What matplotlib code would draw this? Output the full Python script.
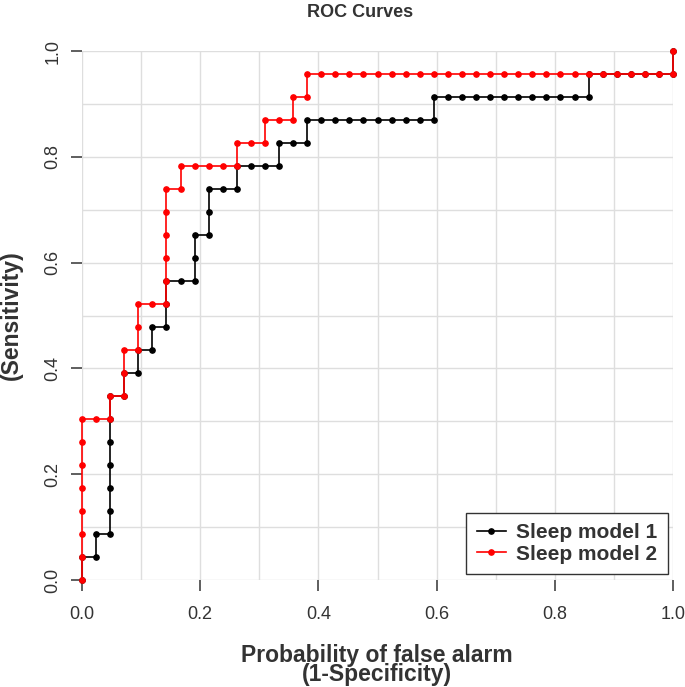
import numpy as np
import matplotlib.pyplot as plt

plt.rcParams['font.family'] = ['Liberation Sans', 'DejaVu Sans']

# counts of negatives / positives behind the ROC steps
n_neg = 42
n_pos = 23

# Sleep model 1: cumulative false positives / true positives at each threshold
fp1 = [0, 0, 1, 1, 2, 2, 2, 2, 2, 2, 2, 3, 3, 4, 4, 5, 5, 6, 6, 6, 7, 8, 8, 8,
       9, 9, 9, 10, 11, 11, 12, 13, 14, 14, 15, 16, 16, 17, 18, 19, 20, 21, 22,
       23, 24, 25, 25, 26, 27, 28, 29, 30, 31, 32, 33, 34, 35, 36, 36, 37, 38,
       39, 40, 41, 42, 42]
tp1 = [0, 1, 1, 2, 2, 3, 4, 5, 6, 7, 8, 8, 9, 9, 10, 10, 11, 11, 12, 13, 13, 13,
       14, 15, 15, 16, 17, 17, 17, 18, 18, 18, 18, 19, 19, 19, 20, 20, 20, 20,
       20, 20, 20, 20, 20, 20, 21, 21, 21, 21, 21, 21, 21, 21, 21, 21, 21, 21,
       22, 22, 22, 22, 22, 22, 22, 23]

# Sleep model 2
fp2 = [0, 0, 0, 0, 0, 0, 0, 0, 1, 2, 2, 3, 3, 3, 4, 4, 4, 5, 6, 6, 6, 6, 6, 6,
       7, 7, 8, 9, 10, 11, 11, 12, 13, 13, 14, 15, 15, 16, 16, 17, 18, 19, 20,
       21, 22, 23, 24, 25, 26, 27, 28, 29, 30, 31, 32, 33, 34, 35, 36, 37, 38,
       39, 40, 41, 42, 42]
tp2 = [0, 1, 2, 3, 4, 5, 6, 7, 7, 7, 8, 8, 9, 10, 10, 11, 12, 12, 12, 13, 14, 15,
       16, 17, 17, 18, 18, 18, 18, 18, 19, 19, 19, 20, 20, 20, 21, 21, 22, 22,
       22, 22, 22, 22, 22, 22, 22, 22, 22, 22, 22, 22, 22, 22, 22, 22, 22, 22,
       22, 22, 22, 22, 22, 22, 22, 23]

labels = ["Sleep model 1", "Sleep model 2"]
ticks = [0.0, 0.2, 0.4, 0.6, 0.8, 1.0]
tick_labels = ["0.0", "0.2", "0.4", "0.6", "0.8", "1.0"]

W, H = 685, 687
txt = '#333333'

fig = plt.figure(figsize=(W/100, H/100), dpi=100)
ax = fig.add_axes([82/W, 107/H, 591/W, 529/H])

x1 = np.array(fp1)/n_neg
y1 = np.array(tp1)/n_pos
x2 = np.array(fp2)/n_neg
y2 = np.array(tp2)/n_pos

ax.plot(x1, y1, '-o', color='black', lw=1.2, ms=3.8, label=labels[0], clip_on=False, zorder=3)
ax.plot(x2, y2, '-o', color='red', lw=1.2, ms=3.8, label=labels[1], clip_on=False, zorder=4)

ax.set_xlim(0, 1)
ax.set_ylim(0, 1)
ax.set_xticks(ticks)
ax.set_yticks(ticks)
ax.set_xticks(np.arange(0, 1.01, 0.1), minor=True)
ax.set_yticks(np.arange(0, 1.01, 0.1), minor=True)
ax.set_xticklabels(tick_labels)
ax.set_yticklabels(tick_labels, rotation=90, va='center')
ax.grid(True, which='both', color='#dedede', lw=1.0)
ax.set_axisbelow(True)
for s in ax.spines.values():
    s.set_visible(False)
ax.tick_params(which='major', length=8, width=1.1, color='#333333', labelsize=13,
               labelcolor=txt)
ax.tick_params(axis='x', pad=11)
ax.tick_params(axis='y', pad=7)
ax.tick_params(which='minor', length=0)

leg = ax.legend(loc='lower right', bbox_to_anchor=(668/W, 107/H + 6/H),
                bbox_transform=fig.transFigure, borderaxespad=0,
                fancybox=False, framealpha=1, edgecolor='#333333',
                prop={'weight': 'bold', 'size': 15}, handlelength=1.4,
                handletextpad=0.5, labelspacing=0.12, borderpad=0.5)
leg.get_frame().set_linewidth(1.0)
for t in leg.get_texts():
    t.set_color(txt)

fig.text(360/W, 1 - 17/H, "ROC Curves", ha='center', va='baseline',
         fontsize=13, fontweight='bold', color=txt)
fig.text(377/W, 1 - 644/H, "Probability of false alarm\n(1-Specificity)",
         ha='center', va='top', fontsize=16.5, fontweight='bold', color=txt,
         linespacing=0.8)
fig.text(11.5/W, 1 - 315/H, "(Sensitivity)", rotation=90, ha='center',
         va='center', fontsize=16.5, fontweight='bold', color=txt)

plt.savefig("out.png", dpi=100)
